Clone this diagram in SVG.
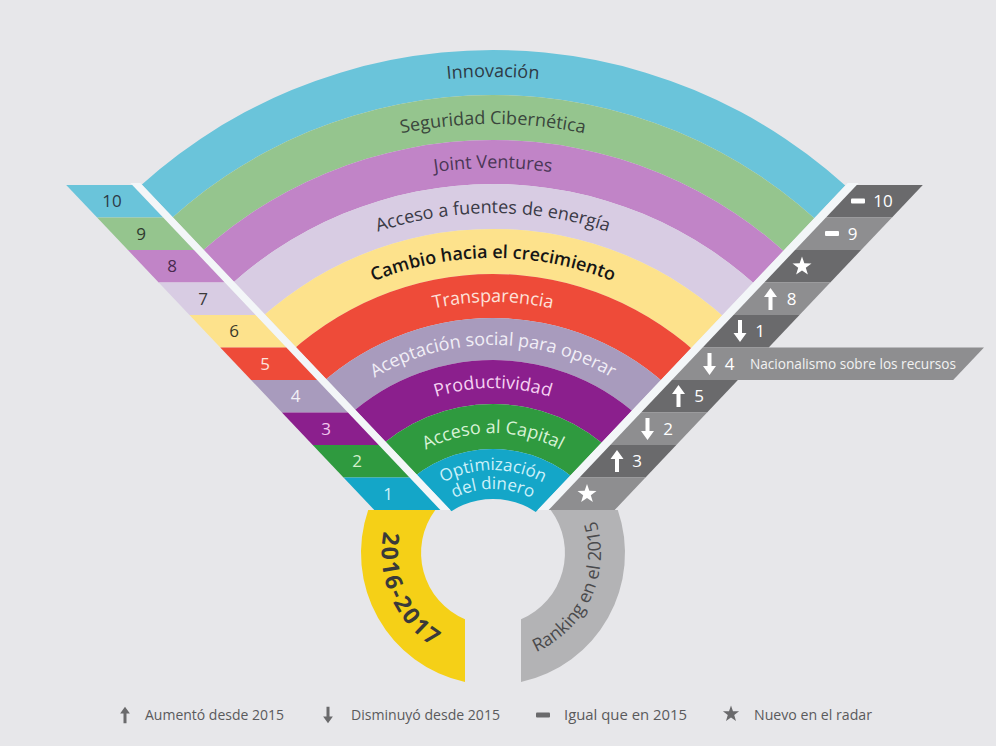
<svg xmlns="http://www.w3.org/2000/svg" xmlns:xlink="http://www.w3.org/1999/xlink" width="996" height="746" viewBox="0 0 996 746">
<style>
  .lbl { font-family: "Open Sans", "Liberation Sans", sans-serif; font-size: 18px; text-anchor: middle; }
  .sm { font-size: 17px; }
  .num { font-family: "Open Sans", "Liberation Sans", sans-serif; font-size: 17px; text-anchor: middle; }
  .rnum { font-family: "Open Sans", "Liberation Sans", sans-serif; font-size: 17px; text-anchor: middle; fill: #ffffff; }
  .leg { font-family: "Open Sans", "Liberation Sans", sans-serif; font-size: 14px; fill: #5a5a5c; }
  .gap { fill: #f3f6f8; }
  .dk { fill: #6a6a6c; }
  .lt { fill: #8e8e90; }
  .ico { fill: #ffffff; }
  .legico { fill: #6a6a6c; }
</style>
<defs>
  <clipPath id="wedge"><polygon points="-127.9,-100 493,555 495,555 1115.9,-100"/></clipPath>
  <path id="up" d="M0,-11 L6.5,-2 L2,-2 L2,11 L-2,11 L-2,-2 L-6.5,-2 Z"/>
  <path id="down" d="M0,11 L6.5,2 L2,2 L2,-11 L-2,-11 L-2,2 L-6.5,2 Z"/>
  <path id="star" d="M0,-10 L2.35,-3.24 L9.51,-3.09 L3.8,1.24 L5.88,8.09 L0,4 L-5.88,8.09 L-3.8,1.24 L-9.51,-3.09 L-2.35,-3.24 Z"/>
  <rect id="dash" x="-7" y="-2.5" width="14" height="5" rx="1"/>
  <path id="t1" d="M-6,576 A499,499 0 0 1 992,576"/>
  <path id="t2" d="M41,576 A452,452 0 0 1 945,576"/>
  <path id="t3" d="M85,576 A408,408 0 0 1 901,576"/>
  <path id="t4" d="M130,576 A363,363 0 0 1 856,576"/>
  <path id="t5" d="M175,576 A318,318 0 0 1 811,576"/>
  <path id="t6" d="M219,576 A274,274 0 0 1 767,576"/>
  <path id="t7" d="M262,576 A231,231 0 0 1 724,576"/>
  <path id="t8" d="M305,576 A188,188 0 0 1 681,576"/>
  <path id="t9" d="M350,576 A143,143 0 0 1 636,576"/>
  <path id="t10a" d="M387,576 A106,106 0 0 1 599,576"/>
  <path id="t10b" d="M406,576 A87,87 0 0 1 580,576"/>
  <path id="ty" d="M389,512.8 A111,111 0 0 0 462.4,659.7"/>
  <path id="tg" d="M522.8,656.8 A108,108 0 0 0 590.9,507.4"/>
</defs>
<rect x="0" y="0" width="996" height="746" fill="#e7e7ea"/>

<g id="fan" clip-path="url(#wedge)" fill-rule="evenodd">
  <g id="band-innovacion"><path fill="#6ac4da" d="M-33,576 a526,526 0 1 0 1052,0 a526,526 0 1 0 -1052,0 Z M12,576 a481,481 0 1 0 962,0 a481,481 0 1 0 -962,0 Z"/></g>
  <g id="band-seguridad"><path fill="#95c58e" d="M12,576 a481,481 0 1 0 962,0 a481,481 0 1 0 -962,0 Z M57,576 a436,436 0 1 0 872,0 a436,436 0 1 0 -872,0 Z"/></g>
  <g id="band-joint"><path fill="#c184c7" d="M57,576 a436,436 0 1 0 872,0 a436,436 0 1 0 -872,0 Z M101,576 a392,392 0 1 0 784,0 a392,392 0 1 0 -784,0 Z"/></g>
  <g id="band-energia"><path fill="#d8cce3" d="M101,576 a392,392 0 1 0 784,0 a392,392 0 1 0 -784,0 Z M146,576 a347,347 0 1 0 694,0 a347,347 0 1 0 -694,0 Z"/></g>
  <g id="band-cambio"><path fill="#fde28c" d="M146,576 a347,347 0 1 0 694,0 a347,347 0 1 0 -694,0 Z M191,576 a302,302 0 1 0 604,0 a302,302 0 1 0 -604,0 Z"/></g>
  <g id="band-transparencia"><path fill="#ee4b39" d="M191,576 a302,302 0 1 0 604,0 a302,302 0 1 0 -604,0 Z M235,576 a258,258 0 1 0 516,0 a258,258 0 1 0 -516,0 Z"/></g>
  <g id="band-aceptacion"><path fill="#a89bbd" d="M235,576 a258,258 0 1 0 516,0 a258,258 0 1 0 -516,0 Z M277,576 a216,216 0 1 0 432,0 a216,216 0 1 0 -432,0 Z"/></g>
  <g id="band-productividad"><path fill="#8b1f8d" d="M277,576 a216,216 0 1 0 432,0 a216,216 0 1 0 -432,0 Z M321,576 a172,172 0 1 0 344,0 a172,172 0 1 0 -344,0 Z"/></g>
  <g id="band-capital"><path fill="#2f9a3f" d="M321,576 a172,172 0 1 0 344,0 a172,172 0 1 0 -344,0 Z M366,576 a127,127 0 1 0 254,0 a127,127 0 1 0 -254,0 Z"/></g>
  <g id="band-optimizacion"><path fill="#14a6c8" d="M366,576 a127,127 0 1 0 254,0 a127,127 0 1 0 -254,0 Z M416,576 a77,77 0 1 0 154,0 a77,77 0 1 0 -154,0 Z"/></g>
</g>

<g id="fan-labels">
  <text class="lbl" fill="#2e3a46"><textPath href="#t1" xlink:href="#t1" startOffset="50%">Innovación</textPath></text>
  <text class="lbl" fill="#3a463c"><textPath href="#t2" xlink:href="#t2" startOffset="50%">Seguridad Cibernética</textPath></text>
  <text class="lbl" fill="#4a3656"><textPath href="#t3" xlink:href="#t3" startOffset="50%">Joint Ventures</textPath></text>
  <text class="lbl" fill="#3a3a46"><textPath href="#t4" xlink:href="#t4" startOffset="50%">Acceso a fuentes de energía</textPath></text>
  <text class="lbl" fill="#151515" font-weight="600"><textPath href="#t5" xlink:href="#t5" startOffset="50%">Cambio hacia el crecimiento</textPath></text>
  <text class="lbl" fill="#fde2da"><textPath href="#t6" xlink:href="#t6" startOffset="50%">Transparencia</textPath></text>
  <text class="lbl" fill="#f1eef6"><textPath href="#t7" xlink:href="#t7" startOffset="50%">Aceptación social para operar</textPath></text>
  <text class="lbl" fill="#f6d2f2"><textPath href="#t8" xlink:href="#t8" startOffset="50%">Productividad</textPath></text>
  <text class="lbl" fill="#d8f2d6"><textPath href="#t9" xlink:href="#t9" startOffset="50%">Acceso al Capital</textPath></text>
  <text class="lbl sm" fill="#cdf1fa"><textPath href="#t10a" xlink:href="#t10a" startOffset="50%">Optimización</textPath></text>
  <text class="lbl sm" fill="#cdf1fa"><textPath href="#t10b" xlink:href="#t10b" startOffset="50%">del dinero</textPath></text>
</g>

<g id="gaps">
  <polygon class="gap" points="130.3,183 140.3,183 450.3,510 440.3,510"/>
  <polygon class="gap" points="847.7,183 858.7,183 548.7,510 537.7,510"/>
</g>

<g id="rank-2016">
  <polygon fill="#6ac4da" points="66.2,185 132.2,185 163.1,217.5 97.1,217.5"/>
  <polygon fill="#95c58e" points="97.1,217.5 163.1,217.5 193.9,250 127.9,250"/>
  <polygon fill="#c184c7" points="127.9,250 193.9,250 224.7,282.5 158.7,282.5"/>
  <polygon fill="#d8cce3" points="158.7,282.5 224.7,282.5 255.5,315 189.5,315"/>
  <polygon fill="#fde28c" points="189.5,315 255.5,315 286.3,347.5 220.3,347.5"/>
  <polygon fill="#ee4b39" points="220.3,347.5 286.3,347.5 317.1,380 251.1,380"/>
  <polygon fill="#a89bbd" points="251.1,380 317.1,380 347.9,412.5 281.9,412.5"/>
  <polygon fill="#8b1f8d" points="281.9,412.5 347.9,412.5 378.7,445 312.7,445"/>
  <polygon fill="#2f9a3f" points="312.7,445 378.7,445 409.5,477.5 343.5,477.5"/>
  <polygon fill="#14a6c8" points="343.5,477.5 409.5,477.5 440.3,510 374.3,510"/>
  <text class="num" x="112" y="207" fill="#2d3a45">10</text>
  <text class="num" x="141" y="240" fill="#2f3a2f">9</text>
  <text class="num" x="172" y="272" fill="#4a2a4f">8</text>
  <text class="num" x="203" y="305" fill="#3a3a3a">7</text>
  <text class="num" x="234" y="337" fill="#3a3a2a">6</text>
  <text class="num" x="265" y="370" fill="#fde3dc">5</text>
  <text class="num" x="295.5" y="402" fill="#f2f0f6">4</text>
  <text class="num" x="326" y="435" fill="#f3c8ef">3</text>
  <text class="num" x="357" y="467" fill="#d5f0cc">2</text>
  <text class="num" x="388" y="500" fill="#cdf0f8">1</text>
</g>

<g id="rank-2015">
  <polygon class="dk" points="856.8,185 922.8,185 892,217.5 826,217.5"/>
  <polygon class="lt" points="826,217.5 892,217.5 861.1,250 795.1,250"/>
  <polygon class="dk" points="795.1,250 861.1,250 830.3,282.5 764.3,282.5"/>
  <polygon class="lt" points="764.3,282.5 830.3,282.5 799.5,315 733.5,315"/>
  <polygon class="dk" points="733.5,315 799.5,315 768.7,347.5 702.7,347.5"/>
  <polygon class="lt" points="702.7,347.5 984,347.5 953.2,380 671.9,380"/>
  <polygon class="dk" points="671.9,380 737.9,380 707.1,412.5 641.1,412.5"/>
  <polygon class="lt" points="641.1,412.5 707.1,412.5 676.3,445 610.3,445"/>
  <polygon class="dk" points="610.3,445 676.3,445 645.5,477.5 579.5,477.5"/>
  <polygon class="lt" points="579.5,477.5 645.5,477.5 614.7,510 548.7,510"/>

  <use href="#dash" xlink:href="#dash" class="ico" x="858" y="201"/>
  <text class="rnum" x="883" y="207">10</text>
  <use href="#dash" xlink:href="#dash" class="ico" x="832" y="233.5"/>
  <text class="rnum" x="852.5" y="240">9</text>
  <use href="#star" xlink:href="#star" class="ico" x="802" y="266.5"/>
  <use href="#up" xlink:href="#up" class="ico" x="770.5" y="299"/>
  <text class="rnum" x="791.5" y="305">8</text>
  <use href="#down" xlink:href="#down" class="ico" x="740" y="331"/>
  <text class="rnum" x="760" y="337">1</text>
  <use href="#down" xlink:href="#down" class="ico" x="709.5" y="364"/>
  <text class="rnum" x="729.5" y="370">4</text>
  <text x="750" y="369" font-family="Open Sans, Liberation Sans, sans-serif" font-size="14" fill="#f2f2f2" textLength="206" lengthAdjust="spacingAndGlyphs">Nacionalismo sobre los recursos</text>
  <use href="#up" xlink:href="#up" class="ico" x="678.5" y="396"/>
  <text class="rnum" x="699" y="402">5</text>
  <use href="#down" xlink:href="#down" class="ico" x="647.5" y="429"/>
  <text class="rnum" x="668" y="435">2</text>
  <use href="#up" xlink:href="#up" class="ico" x="617" y="461"/>
  <text class="rnum" x="637" y="467">3</text>
  <use href="#star" xlink:href="#star" class="ico" x="587" y="494"/>
</g>

<g id="year-ring">
  <path fill="#f5d017" d="M368.2,510 L435.3,510 A72,72 0 0 0 465,619.3 L465,682 A132,132 0 0 1 368.2,510 Z"/>
  <text font-family="Open Sans, Liberation Sans, sans-serif" font-size="23" font-weight="700" fill="#3a3a3a" letter-spacing="2.5" text-anchor="middle"><textPath href="#ty" xlink:href="#ty" startOffset="47%">2016-2017</textPath></text>
</g>

<g id="ranking-ring">
  <path fill="#b3b3b5" d="M617.8,510 L550.7,510 A72,72 0 0 1 521,619.3 L521,682 A132,132 0 0 0 617.8,510 Z"/>
  <text font-family="Open Sans, Liberation Sans, sans-serif" font-size="18" fill="#4a4a4c" text-anchor="middle"><textPath href="#tg" xlink:href="#tg" startOffset="50%">Ranking en el 2015</textPath></text>
</g>

<g id="legend">
  <use href="#up" xlink:href="#up" class="legico" transform="translate(125,715) scale(0.75)"/>
  <text class="leg" x="145" y="720" textLength="139" lengthAdjust="spacingAndGlyphs">Aumentó desde 2015</text>
  <use href="#down" xlink:href="#down" class="legico" transform="translate(328,715) scale(0.75)"/>
  <text class="leg" x="351" y="720" textLength="149" lengthAdjust="spacingAndGlyphs">Disminuyó desde 2015</text>
  <use href="#dash" xlink:href="#dash" class="legico" x="543" y="715"/>
  <text class="leg" x="564" y="720" textLength="123" lengthAdjust="spacingAndGlyphs">Igual que en 2015</text>
  <use href="#star" xlink:href="#star" class="legico" transform="translate(731,714) scale(0.85)"/>
  <text class="leg" x="754" y="720" textLength="118" lengthAdjust="spacingAndGlyphs">Nuevo en el radar</text>
</g>
</svg>
